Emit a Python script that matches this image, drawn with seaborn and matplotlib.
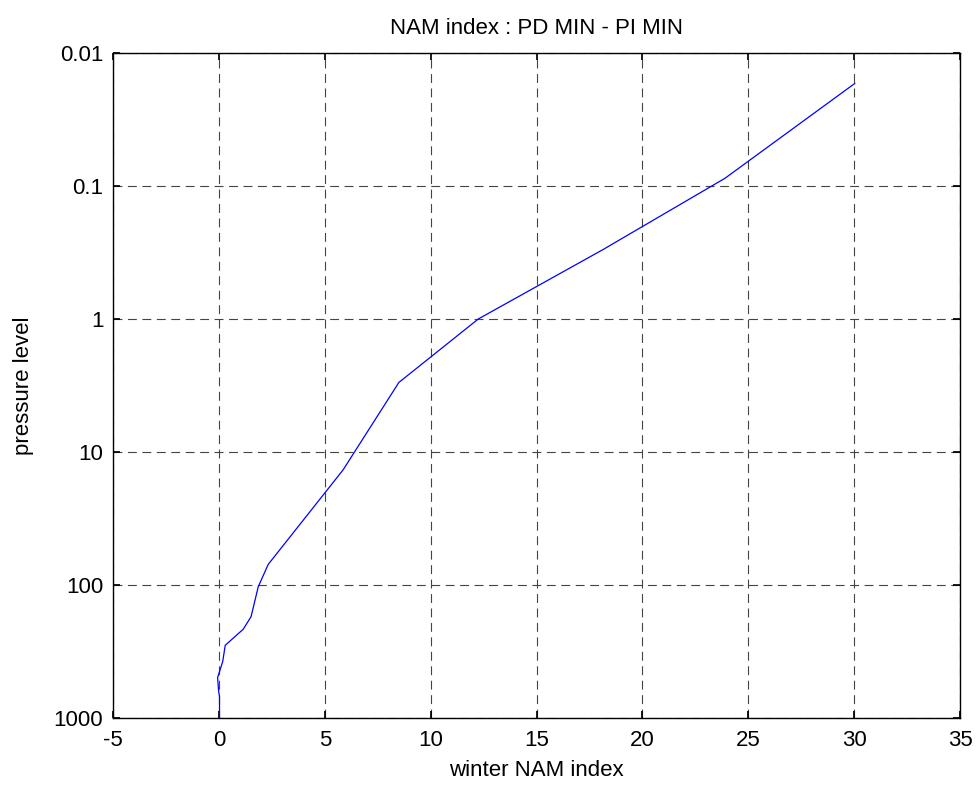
import matplotlib
matplotlib.use("Agg")
import matplotlib.pyplot as plt
import matplotlib.ticker as mticker
import seaborn as sns
import pandas as pd

nam_index = [0.03, 0.03, -0.01, -0.06, 0.18, 0.30, 1.15, 1.52, 1.86, 2.33, 5.87, 8.5, 12.25, 18.15, 23.9, 30.04]
pressure = [1000, 692, 631, 497, 377, 284, 215, 173, 103, 70, 13.6, 3.0, 1.0, 0.30, 0.0875, 0.0169]
y_ticks = [0.01, 0.1, 1, 10, 100, 1000]
y_labels = ["0.01", "0.1", "1", "10", "100", "1000"]
x_ticks = [-5, 0, 5, 10, 15, 20, 25, 30, 35]

sns.set_theme(style="white")
plt.rcParams['font.family'] = ['Liberation Sans', 'DejaVu Sans']

df = pd.DataFrame({"x": nam_index, "p": pressure})

fig = plt.figure(figsize=(9.76, 7.89), dpi=100)
ax = fig.add_axes([113/976, 1-718/789, (960-113)/976, (718-53)/789])
sns.lineplot(data=df, x="x", y="p", sort=False, estimator=None, color="#0000ff", lw=0.9, ax=ax)
ax.set_yscale("log")
ax.set_xlim(-5, 35)
ax.set_ylim(1000, 0.01)
ax.set_xticks(x_ticks)
ax.set_xticklabels([str(t) for t in x_ticks])
ax.set_yticks(y_ticks)
ax.set_yticklabels(y_labels)
ax.yaxis.set_minor_locator(mticker.NullLocator())
ax.grid(True, color="#444444", linestyle=(0, (8, 5)), lw=0.8)
for s in ax.spines.values():
    s.set_color("black")
    s.set_linewidth(1.0)
ax.tick_params(direction="in", length=5, color="black", labelsize=16, labelcolor="black",
               top=True, right=True, bottom=True, left=True)
ax.tick_params(axis="x", pad=9)
ax.tick_params(axis="y", pad=7)
ax.set_xlabel("winter NAM index", fontsize=16, color="black", labelpad=6)
ax.set_ylabel("pressure level", fontsize=16, color="black", labelpad=14)
ax.set_title("NAM index : PD MIN - PI MIN", fontsize=16, color="black", pad=14)
fig.savefig("out.png", dpi=100, facecolor="white")
